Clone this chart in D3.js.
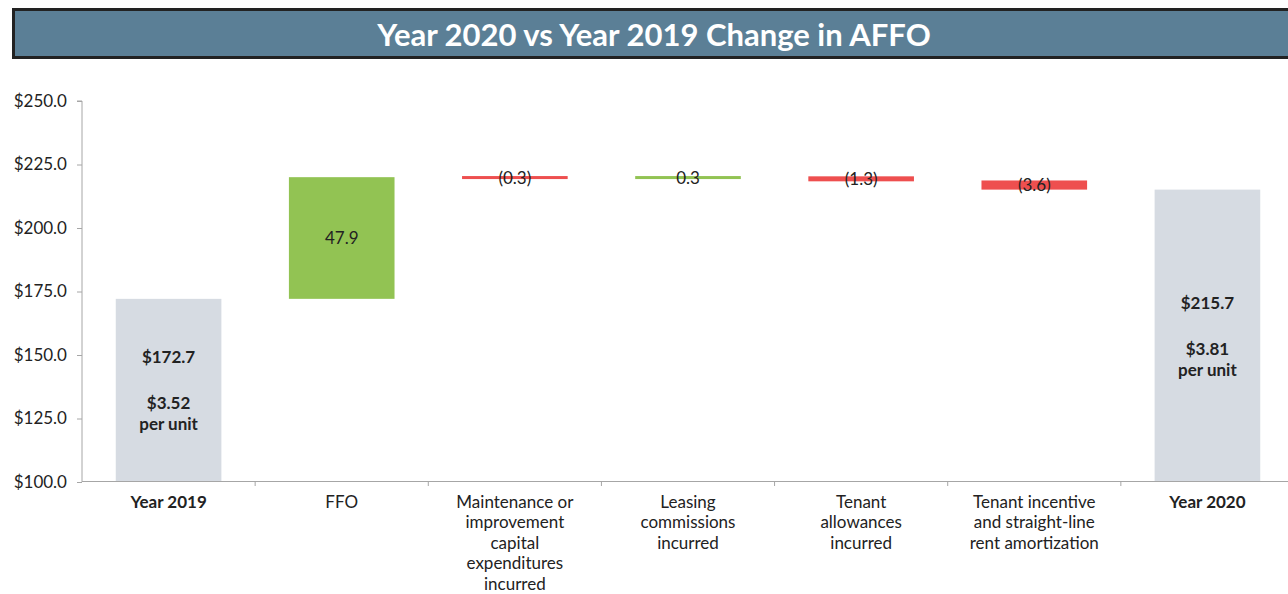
<!DOCTYPE html>
<html><head><meta charset="utf-8">
<script src="https://cdn.jsdelivr.net/npm/d3@7/dist/d3.min.js"></script>
<style>body{margin:0;background:#fff;}svg{display:block;font-family:Lato,"Open Sans",sans-serif;}</style>
</head><body>
<svg id="c" width="1288" height="594"></svg>
<script>
const title = "Year 2020 vs Year 2019 Change in AFFO";
const categories = [
  ["Year 2019"], ["FFO"],
  ["Maintenance or","improvement","capital","expenditures","incurred"],
  ["Leasing","commissions","incurred"],
  ["Tenant","allowances","incurred"],
  ["Tenant incentive","and straight-line","rent amortization"],
  ["Year 2020"]
];
const kinds = ["total","delta","delta","delta","delta","delta","total"];
const values = [172.7, 47.9, -0.3, 0.3, -1.3, -3.6, 215.7];
const valueLabels = ["$172.7","47.9","(0.3)","0.3","(1.3)","(3.6)","$215.7"];
const perUnit = ["$3.52", null, null, null, null, null, "$3.81"];
const yTicks = [100,125,150,175,200,225,250];

const svg = d3.select("#c");
// title bar
svg.append("rect").attr("x",13.5).attr("y",9.5).attr("width",1300).attr("height",48)
  .attr("fill","#5b7f96").attr("stroke","#222").attr("stroke-width",3);
svg.append("text").attr("x",654).attr("y",34).attr("text-anchor","middle")
  .attr("dominant-baseline","central").attr("fill","#fff").attr("font-weight","bold")
  .attr("font-size",31).text(title);

const x = d3.scaleBand().domain(d3.range(categories.length)).range([82,1294]).paddingInner(0.39).paddingOuter(0.195);
const y = d3.scaleLinear().domain([100,250]).range([482,101]);

// compute waterfall
let run = 0; const bars = [];
values.forEach((v,i)=>{
  if(kinds[i]==="total"){ bars.push({i,y0:100,y1:v,v}); run=v; }
  else { const s=run; run=s+v; bars.push({i,y0:Math.min(s,run),y1:Math.max(s,run),v}); }
});
const colorOf = b => kinds[b.i]==="total" ? "#d6dbe2" : (b.v>=0 ? "#92c353" : "#ee4f4f");

const g = svg.append("g");
bars.forEach(b=>{
  const top=y(b.y1)+1.5, bot=y(b.y0)+1.5;
  let h=bot-top; let yy=top;
  if(kinds[b.i]==="total"){ h = 481 - top; }
  if(h<3){ const c=(top+bot)/2; h=3; yy=c-1.5; }
  else if(h<5){ const c=(top+bot)/2; h=5; yy=c-2.5; }
  g.append("rect").attr("x",x(b.i)).attr("y",yy).attr("width",x.bandwidth()).attr("height",h).attr("fill",colorOf(b));
});

// axes
const ya = svg.append("g").attr("transform","translate(82,0)")
  .call(d3.axisLeft(y).tickValues(yTicks).tickSize(5).tickPadding(10).tickFormat(d=>"$"+d.toFixed(1)));
ya.select(".domain").attr("stroke","#a6a6a6").attr("d","M-5,101H0V482");
ya.selectAll(".tick line").attr("stroke","#a6a6a6");
ya.selectAll(".tick text").attr("font-size",17).attr("fill","#222").attr("font-family","Lato,sans-serif");

const xa = svg.append("g");
xa.append("line").attr("x1",82).attr("x2",1288).attr("y1",481.5).attr("y2",481.5).attr("stroke","#a6a6a6");
for(let i=1;i<categories.length;i++){
  const bx = x(i) - x.step()*x.paddingInner()/2;
  xa.append("line").attr("x1",bx).attr("x2",bx).attr("y1",481).attr("y2",486).attr("stroke","#a6a6a6");
}
categories.forEach((lines,i)=>{
  const t = xa.append("text").attr("text-anchor","middle").attr("font-size",17).attr("fill","#222")
    .attr("font-weight", kinds[i]==="total" ? "bold":"normal");
  lines.forEach((l,k)=>{
    t.append("tspan").attr("x",x(i)+x.bandwidth()/2).attr("y",501+k*20.6).attr("dominant-baseline","central").text(l);
  });
});

// value labels
bars.forEach(b=>{
  const cx = x(b.i)+x.bandwidth()/2;
  const cy = (y(b.y0)+y(b.y1))/2+1;
  if(kinds[b.i]==="total"){
    const t = svg.append("text").attr("text-anchor","middle").attr("font-size",17).attr("font-weight","bold").attr("fill","#222");
    t.append("tspan").attr("x",cx).attr("y",cy-34).attr("dominant-baseline","central").text(valueLabels[b.i]);
    t.append("tspan").attr("x",cx).attr("y",cy+12).attr("dominant-baseline","central").text(perUnit[b.i]);
    t.append("tspan").attr("x",cx).attr("y",cy+33).attr("dominant-baseline","central").text("per unit");
  } else {
    svg.append("text").attr("x",cx).attr("y",cy).attr("text-anchor","middle").attr("dominant-baseline","central")
      .attr("font-size",17).attr("fill","#222").text(valueLabels[b.i]);
  }
});
</script>
</body></html>
